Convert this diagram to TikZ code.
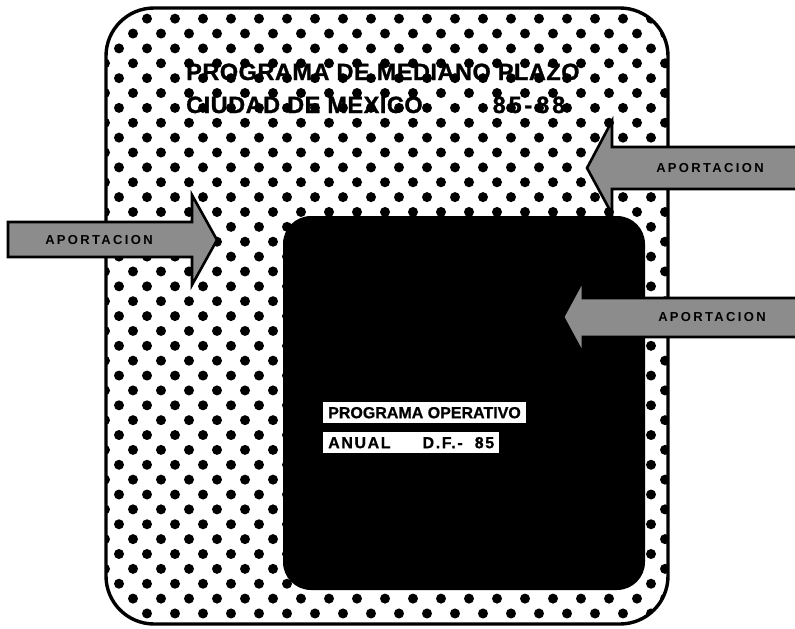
\documentclass[tikz,border=0pt]{standalone}
\usepackage{fontspec}
\setsansfont{Liberation Sans}
\usetikzlibrary{positioning}

\begin{document}
\begin{tikzpicture}[x=1pt, y=-1pt, font=\sffamily\bfseries,
    aportarrow/.style={fill=halftone, draw=black, line width=2.6pt, line join=miter},
    aporttext/.style={font=\sffamily\bfseries\fontsize{13}{13}\selectfont\addfontfeature{LetterSpace=18}, inner sep=0pt},
    titletext/.style={font=\sffamily\bfseries\fontsize{23.5}{23.5}\selectfont\addfontfeature{LetterSpace=2.2,FakeBold=1.2},
        anchor=base west, inner sep=0pt},
    labelbox/.style={fill=white, anchor=north west, minimum height=21pt, inner xsep=5pt, inner ysep=0pt,
        font=\sffamily\bfseries\fontsize{16}{16}\selectfont\addfontfeature{FakeBold=0.8}}]

    % --- DEFINITIONS ---
    \definecolor{halftone}{gray}{0.55}
    \useasboundingbox (0,0) rectangle (795,629);

    % --- OUTER FRAME: MEDIUM-TERM PROGRAMME (dotted screen) ---
    \begin{scope}
        \clip[rounded corners=48pt] (106,8) rectangle (668,624);
        \foreach \j in {0,...,42}
            \foreach \i in {3,...,24}
                \fill ({7+14*mod(\j+1,2)+28*\i}, {3.8+14.87*\j}) circle (5pt);
    \end{scope}
    \draw[line width=3.4pt, rounded corners=48pt] (106,8) rectangle (668,624);

    \node[titletext] (title1) at (186,80) {PROGRAMA DE MEDIANO PLAZO};
    \node[titletext] (title2) at (186,113)
        {CIUDAD DE MEXICO\hspace{70pt}{\addfontfeature{LetterSpace=12}85-\hspace{4pt}88}};

    % --- INNER BLOCK: ANNUAL OPERATIVE PROGRAMME ---
    \fill[black, rounded corners=28pt] (283,216) rectangle (645,590);

    \node[labelbox] (oper1) at (323,402) {PROGRAMA OPERATIVO};
    \node[labelbox] (oper2) at (323,432)
        {\addfontfeature{LetterSpace=10}ANUAL\hspace{32pt}D.F.-\hspace{12pt}85};

    % --- CONTRIBUTIONS ---
    % left, into the frame
    \filldraw[aportarrow] (8,222) -- (192,222) -- (192,195) -- (217,240)
        -- (192,285) -- (192,257) -- (8,257) -- cycle;
    \node[aporttext] (aportL) at (99,240) {APORTACION};

    % right, into the frame
    \filldraw[aportarrow] (800,147) -- (612,147) -- (612,121) -- (587,168)
        -- (612,214) -- (612,189) -- (800,189) -- cycle;
    \node[aporttext] (aportR) at (710,168) {APORTACION};

    % right, into the inner block
    \filldraw[aportarrow] (800,298) -- (583,298) -- (583,280) -- (563,317)
        -- (583,354) -- (583,337) -- (800,337) -- cycle;
    \node[aporttext] (aportI) at (712,317) {APORTACION};

\end{tikzpicture}
\end{document}
